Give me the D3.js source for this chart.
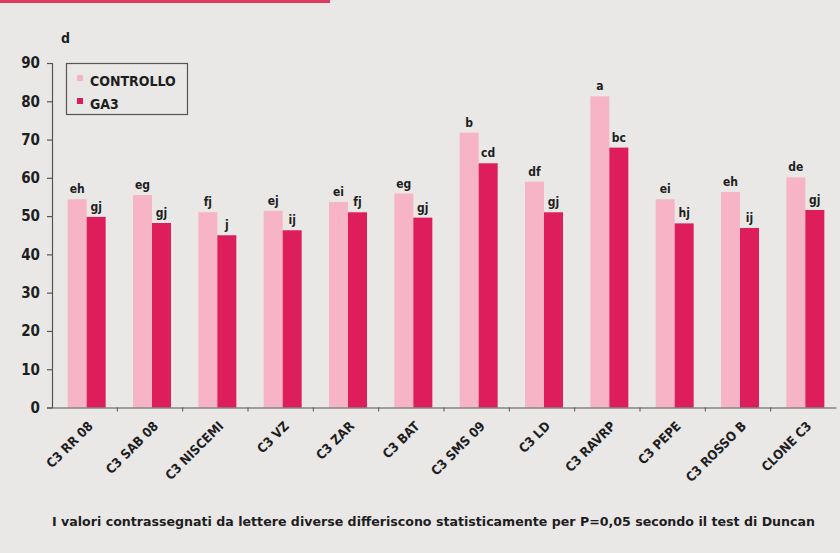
<html>
<head>
	<title>GA3 chart</title>
	<style>
		body { margin: 0; background-color: #e9e8e7; }
		text { font-family: "DejaVu Sans Condensed", "Liberation Sans Narrow", sans-serif; font-weight: bold; fill: #1e1e1e; }
	</style>
</head>
<body>
<div id="dataviz"></div>
<script src="https://cdnjs.cloudflare.com/ajax/libs/d3/7.8.5/d3.min.js"></script>
<script>

	//categories along x
	var categories = ['C3 RR 08', 'C3 SAB 08', 'C3 NISCEMI', 'C3 VZ', 'C3 ZAR', 'C3 BAT', 'C3 SMS 09', 'C3 LD', 'C3 RAVRP', 'C3 PEPE', 'C3 ROSSO B', 'CLONE C3'];

	//series values
	var controllo = [54.4, 55.5, 51.0, 51.4, 53.7, 55.9, 71.8, 59.0, 81.3, 54.4, 56.3, 60.1];
	var ga3 = [49.8, 48.2, 45.0, 46.3, 51.0, 49.6, 63.8, 51.0, 67.9, 48.1, 46.9, 51.6];

	//Duncan letters
	var lettersControllo = ['eh', 'eg', 'fj', 'ej', 'ei', 'eg', 'b', 'df', 'a', 'ei', 'eh', 'de'];
	var lettersGa3 = ['gj', 'gj', 'j', 'ij', 'fj', 'gj', 'cd', 'gj', 'bc', 'hj', 'ij', 'gj'];

	var seriesNames = ['CONTROLLO', 'GA3'];
	var yTicks = [0, 10, 20, 30, 40, 50, 60, 70, 80, 90];

	var width = 840;
	var height = 553;
	var colors = ['#f6b4c6', '#de1d5c'];

	var svg = d3.select('#dataviz')
		.append('svg')
		.attr('width', width)
		.attr('height', height);

	//paper background
	svg.append('rect').attr('x', 0).attr('y', 0).attr('width', width).attr('height', height).attr('fill', '#e9e8e7');
	//red strip on top
	svg.append('rect').attr('x', 0).attr('y', 0).attr('width', 330).attr('height', 3).attr('fill', '#e03a62');

	var x = d3.scaleBand().domain(categories).range([52, 836]).paddingInner(0).paddingOuter(0);
	var y = d3.scaleLinear().domain([0, 90]).range([407.5, 63]);
	var barW = 19;

	//y axis
	var yAxis = svg.append('g')
		.attr('transform', 'translate(52,0)')
		.call(d3.axisLeft(y).tickValues(yTicks).tickSize(5).tickPadding(7));
	yAxis.selectAll('path, line').attr('stroke', '#555').attr('stroke-width', 1.2);
	yAxis.selectAll('text').attr('font-size', 15).style('font-family', '"DejaVu Sans Condensed", sans-serif').style('font-weight', 'bold');

	//bars
	var groups = svg.selectAll('.grp')
		.data(categories)
		.enter()
		.append('g')
		.attr('class', 'grp');

	groups.append('rect')
		.attr('x', function(d){ return x(d) + x.bandwidth() / 2 - barW + 2; })
		.attr('y', function(d, i){ return y(controllo[i]); })
		.attr('width', barW)
		.attr('height', function(d, i){ return y(0) - y(controllo[i]); })
		.attr('fill', colors[0]);

	groups.append('rect')
		.attr('x', function(d){ return x(d) + x.bandwidth() / 2 + 2; })
		.attr('y', function(d, i){ return y(ga3[i]); })
		.attr('width', barW)
		.attr('height', function(d, i){ return y(0) - y(ga3[i]); })
		.attr('fill', colors[1]);

	//letters above bars
	groups.append('text')
		.attr('x', function(d){ return x(d) + x.bandwidth() / 2 - barW / 2 + 2; })
		.attr('y', function(d, i){ return y(controllo[i]) - 6; })
		.attr('text-anchor', 'middle')
		.attr('font-size', 12)
		.text(function(d, i){ return lettersControllo[i]; });

	groups.append('text')
		.attr('x', function(d){ return x(d) + x.bandwidth() / 2 + barW / 2 + 2; })
		.attr('y', function(d, i){ return y(ga3[i]) - 6; })
		.attr('text-anchor', 'middle')
		.attr('font-size', 12)
		.text(function(d, i){ return lettersGa3[i]; });

	//x axis
	var xAxis = svg.append('g')
		.attr('transform', 'translate(0,' + y(0) + ')')
		.call(d3.axisBottom(x).tickSize(0).tickFormat(''));
	xAxis.select('path').attr('stroke', '#555').attr('stroke-width', 1.2);

	//ticks between categories
	svg.selectAll('.sep')
		.data(categories.slice(1))
		.enter()
		.append('line')
		.attr('x1', function(d){ return x(d); })
		.attr('x2', function(d){ return x(d); })
		.attr('y1', y(0))
		.attr('y2', y(0) + 4)
		.attr('stroke', '#555');

	//rotated category labels
	svg.selectAll('.xlab')
		.data(categories)
		.enter()
		.append('text')
		.attr('transform', function(d){ return 'translate(' + (x(d) + x.bandwidth() / 2 + 9) + ',' + 427 + ') rotate(-45)'; })
		.attr('text-anchor', 'end')
		.attr('font-size', 13)
		.text(function(d){ return d; });

	//"d" label
	svg.append('text').attr('x', 61).attr('y', 43).attr('font-size', 14).text('d');

	//legend
	svg.append('rect')
		.attr('x', 66.5).attr('y', 63.5).attr('width', 121).attr('height', 51)
		.attr('fill', 'none').attr('stroke', '#555').attr('stroke-width', 1.2);

	var legend = svg.selectAll('.leg')
		.data(seriesNames)
		.enter()
		.append('g')
		.attr('transform', function(d, i){ return 'translate(77,' + (75 + i * 23) + ')'; });

	legend.append('rect').attr('width', 6).attr('height', 6).attr('fill', function(d, i){ return colors[i]; });
	legend.append('text').attr('x', 13).attr('y', 11).attr('font-size', 14).text(function(d){ return d; });

	//footnote
	svg.append('text')
		.attr('x', 52).attr('y', 526)
		.attr('font-size', 13)
		.attr('textLength', 763)
		.attr('lengthAdjust', 'spacingAndGlyphs')
		.text('I valori contrassegnati da lettere diverse differiscono statisticamente per P=0,05 secondo il test di Duncan');

</script>
</body>
</html>
